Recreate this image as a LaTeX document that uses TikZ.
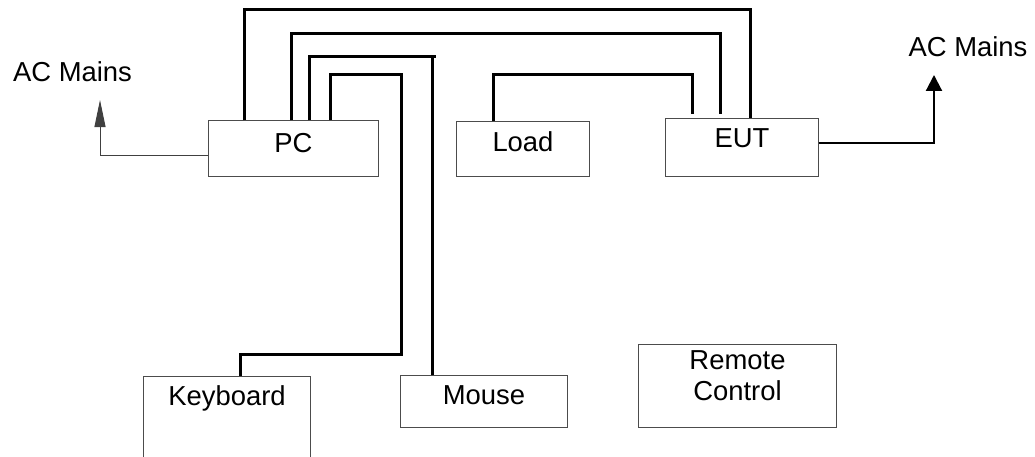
\documentclass[tikz,border=0pt]{standalone}
\usepackage{fontspec}
\setmainfont{Liberation Sans}
\usetikzlibrary{arrows.meta,calc,positioning}

\begin{document}
\begin{tikzpicture}[
    x=0.025cm, y=-0.025cm,
    box/.style={rectangle, draw=black!70, line width=0.7pt, inner sep=0pt, text height=0.49cm, font=\fontsize{19.5}{22}\selectfont},
    wire/.style={line width=1.5pt},
    mainsline/.style={draw=black!75, line width=0.7pt},
    mainstext/.style={font=\fontsize{19.5}{22}\selectfont}
]

% Frame
\useasboundingbox (0,0) rectangle (1035,457);
\clip (0,0) rectangle (1035,457);

% Boxes
\node[box, minimum width=4.225cm, minimum height=1.375cm, text depth=0.3cm] (pc) at (293.5,148.5) {PC};
\node[box, minimum width=3.3cm, minimum height=1.35cm, text depth=0.35cm] (load) at (523,149) {Load};
\node[box, minimum width=3.8cm, minimum height=1.425cm, text depth=0.475cm] (eut) at (742,147.5) {EUT};
\node[box, draw=none, anchor=north, minimum width=4.15cm, minimum height=0.95cm, text depth=0pt] (kbd) at (227,376) {Keyboard};
\node[box, minimum width=4.15cm, minimum height=1.275cm, text depth=0.325cm] (mouse) at (484,401.5) {Mouse};
\node[box, minimum width=4.925cm, minimum height=2.05cm,
      label={[mainstext, align=center, yshift=0.25cm]center:{Remote\\Control}}] (remote) at (737.5,386) {};

% Keyboard box runs off the page
\draw[draw=black!70, line width=0.7pt] (kbd.north west) ++(0,100) -- (kbd.north west) -- (kbd.north east) -- ++(0,100);

% AC mains
\node[mainstext] (acleft) at (72.5,72) {AC Mains};
\node[mainstext] (acright) at (968,47) {AC Mains};
\coordinate (tipleft) at (100,100);
\coordinate (tipright) at (934,75);
\draw[mainsline, -{Triangle[length=0.675cm, width=0.275cm]}] ($(pc.west)+(0,6.5)$) -| (tipleft);
\draw[wire, -{Triangle[length=0.4cm, width=0.4cm]}] ($(eut.east)+(0,-4.5)$) -| (tipright);

% Cables from PC
\draw[wire] ($(pc.north west)+(36,0)$) -- ++(0,-111) -| ($(eut.north west)+(85,0)$);
\draw[wire, shorten >=0.1cm] ($(pc.north west)+(83,0)$) -- ++(0,-87) -| ($(eut.north west)+(55,0)$);
\draw[wire] ($(pc.north west)+(101,0)$) -- ++(0,-64) -- ++(127,0) coordinate (mousetop);
\draw[wire] ($(mouse.north west)+(32,0)$) |- (mousetop);
\draw[wire] ($(pc.north west)+(122,0)$) -- ++(0,-46) -- ++(71,0) -- ++(0,280) -| ($(kbd.north west)+(97,0)$);

% Load to EUT
\draw[wire, shorten >=0.1cm] ($(load.north west)+(37,0)$) -- ++(0,-47) -| ($(eut.north west)+(27,0)$);

\end{tikzpicture}
\end{document}
